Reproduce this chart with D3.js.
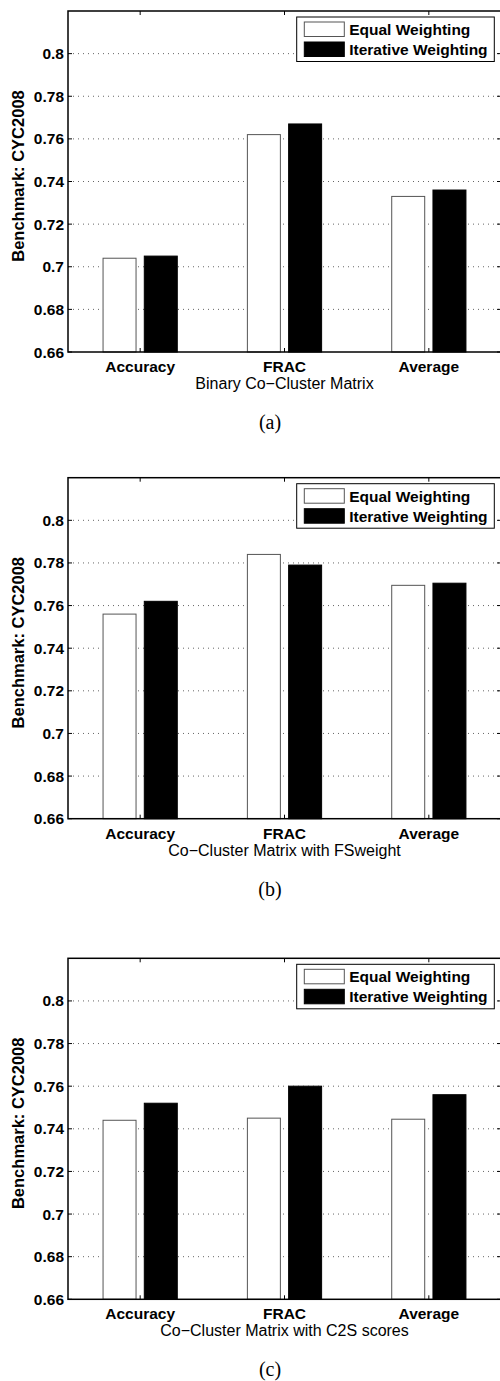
<!DOCTYPE html>
<html>
<head>
<meta charset="utf-8">
<script src="https://cdn.jsdelivr.net/npm/d3@7"></script>
<style>
  body { margin: 0; background: #fff; }
  svg { display: block; }
</style>
</head>
<body>
<div id="chart"></div>
<script>
const categories = ["Accuracy", "FRAC", "Average"];
const series = ["Equal Weighting", "Iterative Weighting"];

// values
const equalA = [0.704, 0.762, 0.733];
const iterA = [0.705, 0.767, 0.736];
const equalB = [0.756, 0.784, 0.7695];
const iterB = [0.762, 0.779, 0.7705];
const equalC = [0.744, 0.745, 0.7445];
const iterC = [0.752, 0.76, 0.756];

const yTicks = [0.66, 0.68, 0.7, 0.72, 0.74, 0.76, 0.78, 0.8];
const yTickLabels = ["0.66", "0.68", "0.7", "0.72", "0.74", "0.76", "0.78", "0.8"];
const yDomain = [0.66, 0.82];
const yTitle = "Benchmark: CYC2008";
const xTitles = [
  "Binary Co\u2212Cluster Matrix",
  "Co\u2212Cluster Matrix with FSweight",
  "Co\u2212Cluster Matrix with C2S scores",
];
const captions = ["(a)", "(b)", "(c)"];
const panelTops = [11, 477.7, 958.3];

const W = 500,
  H = 1381;
const left = 68,
  right = 501,
  plotH = 341;
const bold = "bold 15.5px 'Liberation Sans', Arial, sans-serif";

const svg = d3
  .select("#chart")
  .append("svg")
  .attr("width", W)
  .attr("height", H);

const x0 = d3.scaleBand(categories, [left, right]);
const bw = x0.bandwidth();
const x1 = d3
  .scaleBand(series, [bw * (0.5 - 2 / 7), bw * (0.5 + 2 / 7)])
  .paddingInner(0.2)
  .paddingOuter(0.1);
const fills = ["#fff", "#000"];
const edges = ["#555", "#000"];

function Panel(top, eq, it, xTitle, caption) {
  const y = d3.scaleLinear(yDomain, [top + plotH, top]);
  const bottom = top + plotH;
  const g = svg.append("g");
  const rows = categories.map((c, i) => ({ c, v: [eq[i], it[i]] }));

  // dotted grid
  g.append("g")
    .selectAll("line")
    .data(yTicks.slice(1))
    .join("line")
    .attr("x1", left)
    .attr("x2", right)
    .attr("y1", (d) => y(d))
    .attr("y2", (d) => y(d))
    .attr("stroke", "#666")
    .attr("stroke-width", 1)
    .attr("stroke-dasharray", "1,4");

  // bars
  g.append("g")
    .selectAll("g")
    .data(rows)
    .join("g")
    .attr("transform", (d) => `translate(${x0(d.c)},0)`)
    .selectAll("rect")
    .data((d) => d.v.map((v, k) => ({ s: series[k], v, k })))
    .join("rect")
    .attr("x", (d) => x1(d.s))
    .attr("width", x1.bandwidth())
    .attr("y", (d) => y(d.v))
    .attr("height", (d) => y(yDomain[0]) - y(d.v))
    .attr("fill", (d) => fills[d.k])
    .attr("stroke", (d) => edges[d.k])
    .attr("stroke-width", 1);

  // box
  g.append("rect")
    .attr("x", left)
    .attr("y", top)
    .attr("width", right - left)
    .attr("height", plotH)
    .attr("fill", "none")
    .attr("stroke", "#000")
    .attr("stroke-width", 1.5);

  // inward ticks
  const tk = 4;
  g.append("g")
    .selectAll("path")
    .data(yTicks)
    .join("path")
    .attr("d", (d) => `M${left},${y(d)}h${tk}M${right},${y(d)}h${-tk}`)
    .attr("stroke", "#000");
  g.append("g")
    .selectAll("path")
    .data(categories)
    .join("path")
    .attr("d", (d) => {
      const cx = x0(d) + bw / 2;
      return `M${cx},${top}v${tk}M${cx},${bottom}v${-tk}`;
    })
    .attr("stroke", "#000");

  // tick labels
  g.append("g")
    .selectAll("text")
    .data(yTicks)
    .join("text")
    .attr("x", left - 4)
    .attr("y", (d) => y(d) + 5.5)
    .attr("text-anchor", "end")
    .style("font", bold)
    .text((d, i) => yTickLabels[i]);
  g.append("g")
    .selectAll("text")
    .data(categories)
    .join("text")
    .attr("x", (d) => x0(d) + bw / 2)
    .attr("y", bottom + 20)
    .attr("text-anchor", "middle")
    .style("font", bold)
    .text((d) => d);

  g.append("text")
    .attr("transform", `translate(24,${top + 165}) rotate(-90)`)
    .attr("text-anchor", "middle")
    .style("font", "bold 16.5px 'Liberation Sans', Arial, sans-serif")
    .text(yTitle);

  g.append("text")
    .attr("x", (left + right) / 2)
    .attr("y", bottom + 37)
    .attr("text-anchor", "middle")
    .style("font", "16px 'Liberation Sans', Arial, sans-serif")
    .text(xTitle);

  g.append("text")
    .attr("x", 270)
    .attr("y", bottom + 77)
    .attr("text-anchor", "middle")
    .style("font", "20px 'Liberation Serif', 'Times New Roman', serif")
    .text(caption);

  // legend
  const lg = g.append("g").attr("transform", `translate(296.7,${top + 6})`);
  lg.append("rect")
    .attr("width", 197.6)
    .attr("height", 44.5)
    .attr("fill", "#fff")
    .attr("stroke", "#000")
    .attr("stroke-width", 1);
  const item = lg
    .selectAll("g")
    .data(series)
    .join("g")
    .attr("transform", (d, i) => `translate(0,${i * 20})`);
  item
    .append("rect")
    .attr("x", 7.6)
    .attr("y", 5)
    .attr("width", 40)
    .attr("height", 14.5)
    .attr("fill", (d, i) => fills[i])
    .attr("stroke", (d, i) => edges[i]);
  item
    .append("text")
    .attr("x", 52.5)
    .attr("y", 18)
    .style("font", bold)
    .text((d) => d);
}

Panel(panelTops[0], equalA, iterA, xTitles[0], captions[0]);
Panel(panelTops[1], equalB, iterB, xTitles[1], captions[1]);
Panel(panelTops[2], equalC, iterC, xTitles[2], captions[2]);
</script>
</body>
</html>
